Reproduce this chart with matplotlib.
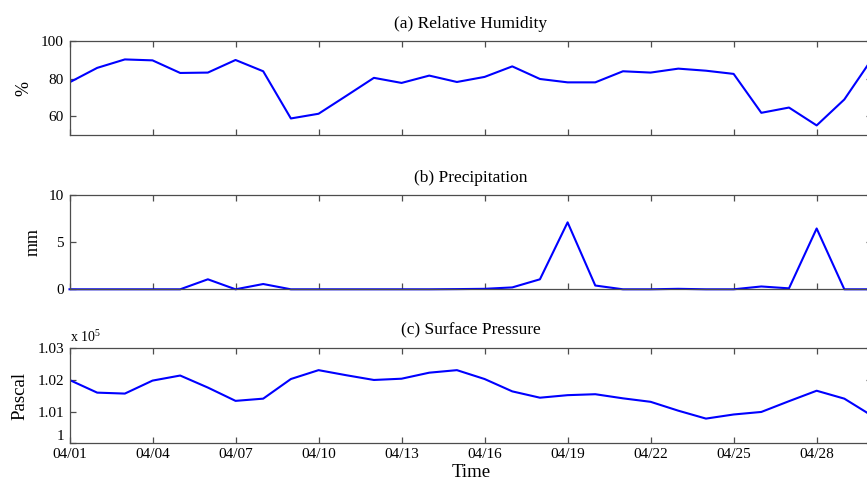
import numpy as np
import matplotlib
matplotlib.use('Agg')
import matplotlib.pyplot as plt

plt.rcParams['font.family'] = ['Liberation Serif', 'DejaVu Serif']
plt.rcParams['mathtext.fontset'] = 'custom'
plt.rcParams['mathtext.rm'] = 'Liberation Serif'

# daily values, 04/01 .. 04/30
days = np.arange(1, 31)

humidity = [78.0, 85.7, 90.2, 89.7, 83.0, 83.2, 89.9, 83.9, 58.8, 61.3,
            70.8, 80.4, 77.7, 81.6, 78.2, 80.9, 86.5, 79.8, 78.0, 78.0,
            83.9, 83.2, 85.3, 84.2, 82.5, 61.8, 64.6, 55.1, 68.9, 90.5]

precip = [0, 0, 0, 0, 0, 1.06, 0, 0.56, 0, 0,
          0, 0, 0, 0, 0.02, 0.05, 0.2, 1.06, 7.1, 0.4,
          0, 0, 0.05, 0, 0, 0.3, 0.1, 6.45, 0, 0]

pressure = [102000, 101600, 101570, 101980, 102140, 101760, 101340, 101410, 102030, 102310,
            102150, 102000, 102040, 102230, 102310, 102030, 101640, 101440, 101520, 101550,
            101420, 101310, 101030, 100780, 100910, 100990, 101330, 101660, 101410, 100870]

xticks = [1, 4, 7, 10, 13, 16, 19, 22, 25, 28]
xticklabels = ['04/%02d' % d for d in xticks]

fig = plt.figure(figsize=(8.67, 4.83), dpi=100)

left = 69.5 / 867
width = (872 - 69.5) / 867
H = 483.0
ax1 = fig.add_axes([left, 1 - 135 / H, width, (135 - 41) / H])
ax2 = fig.add_axes([left, 1 - 289.3 / H, width, (289.3 - 195) / H])
ax3 = fig.add_axes([left, 1 - 443.3 / H, width, (443.3 - 348.3) / H])

spine_col = '0.3'

def style(ax):
    ax.set_xlim(1, 30)
    ax.set_xticks(xticks)
    ax.tick_params(direction='in', top=True, right=True, length=4.5, width=0.9,
                   color=spine_col, labelsize=11, pad=3.5)
    ax.tick_params(axis='y', pad=4)
    for s in ax.spines.values():
        s.set_color(spine_col)
        s.set_linewidth(0.9)

# (a) humidity
ax1.plot(days, humidity, color='#0000ff', lw=1.5)
style(ax1)
ax1.set_ylim(50, 100)
ax1.set_yticks([60, 80, 100])
ax1.set_xticklabels([])
ax1.set_title('(a) Relative Humidity', fontsize=12.5, pad=9)
ax1.set_ylabel('%', fontsize=13)
ax1.yaxis.set_label_coords(-0.046, 0.5)

# (b) precipitation
ax2.plot(days, precip, color='#0000ff', lw=1.5, clip_on=False)
style(ax2)
ax2.set_ylim(0, 10)
ax2.set_yticks([0, 5, 10])
ax2.set_xticklabels([])
ax2.set_title('(b) Precipitation', fontsize=12.5, pad=9)
ax2.set_ylabel('mm', fontsize=13)
ax2.yaxis.set_label_coords(-0.035, 0.5)

# (c) surface pressure, shown in units of 1e5 Pa
ax3.plot(days, np.array(pressure) / 1e5, color='#0000ff', lw=1.5)
style(ax3)
ax3.set_ylim(1.0, 1.03)
ax3.set_yticks([1.0, 1.01, 1.02, 1.03])
ax3.set_yticklabels(['1', '1.01', '1.02', '1.03'])
# lowest label sits just above the date labels
ax3.get_yticklabels()[0].set_va('bottom')
ax3.set_xticklabels(xticklabels)
ax3.set_title('(c) Surface Pressure', fontsize=12.5, pad=10)
ax3.set_ylabel('Pascal', fontsize=13.5)
ax3.yaxis.set_label_coords(-0.051, 0.5)
ax3.set_xlabel('Time', fontsize=13.5, labelpad=2)
ax3.text(0.0, 1.04, r'x 10$^\mathregular{5}$', transform=ax3.transAxes,
         fontsize=10, ha='left', va='bottom')

fig.savefig('out.png', dpi=100)
